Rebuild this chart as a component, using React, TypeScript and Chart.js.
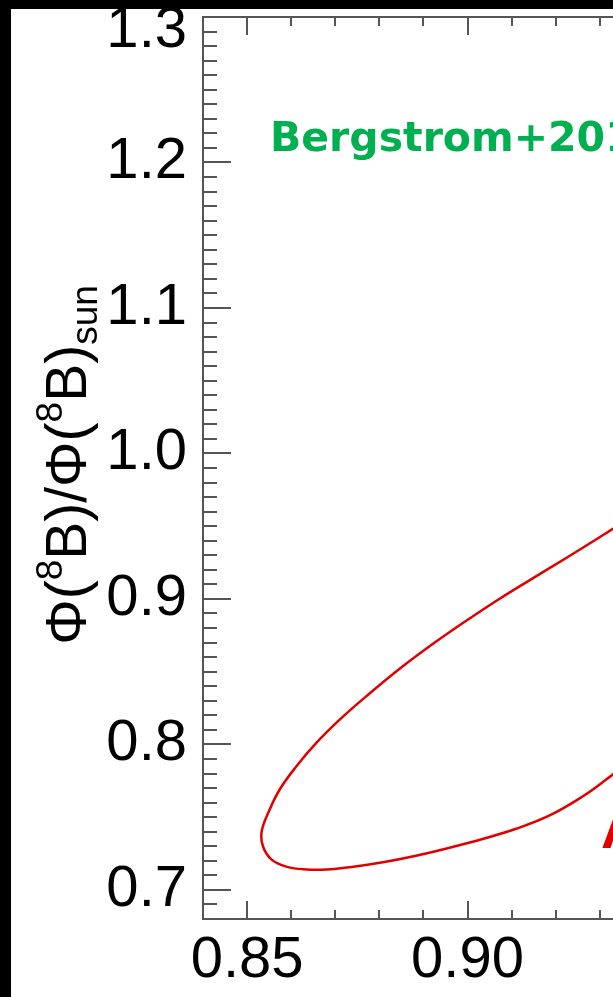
import React, { useEffect, useRef } from "react";
import { Chart, registerables } from "chart.js";

Chart.register(...registerables);

// ---- axis ranges and ticks ----
const xMin = 0.84;
const xMax = 0.933;
const yMin = 0.68;
const yMax = 1.3;
const xMajorTicks = [0.85, 0.9];
const yMajorTicks = [0.7, 0.8, 0.9, 1.0, 1.1, 1.2, 1.3];
const xMinorStep = 0.01;
const yMinorStep = 0.01;

// ---- red contour (upper branch -> tip -> lower branch) ----
const contourX = [
  0.94, 0.9313, 0.9223, 0.9147, 0.9072, 0.8997, 0.8921, 0.8846, 0.877, 0.871,
  0.8657, 0.8612, 0.8574, 0.8548, 0.8533, 0.8536, 0.8555, 0.8589, 0.8635, 0.868,
  0.8733, 0.8808, 0.8883, 0.8959, 0.9034, 0.911, 0.9185, 0.926, 0.9313, 0.94,
];
const contourY = [
  0.962, 0.945, 0.928, 0.914, 0.9, 0.885, 0.869, 0.852, 0.833, 0.817,
  0.801, 0.785, 0.769, 0.753, 0.74, 0.73, 0.721, 0.716, 0.714, 0.714,
  0.7156, 0.719, 0.7235, 0.729, 0.735, 0.742, 0.751, 0.764, 0.7755, 0.796,
];

// ---- texts ----
const yTitleParts = [
  { t: "Φ(", k: "main" },
  { t: "8", k: "sup" },
  { t: "B)/Φ(", k: "main" },
  { t: "8", k: "sup" },
  { t: "B)", k: "main" },
  { t: "sun", k: "sub" },
];
const refText = "Bergstrom+2016";
const modelText = "AGSS09";

const LABEL_FONT = "'Liberation Sans', Arial, sans-serif";
const AXIS_COLOR = "#555555";
const TICK_FONT_SIZE = 58;

const decorPlugin = {
  id: "decor",
  afterDraw(chart: any) {
    const { ctx, chartArea: ca, scales } = chart;
    const xs = scales.x;
    const ys = scales.y;
    ctx.save();

    // top axis line
    ctx.strokeStyle = AXIS_COLOR;
    ctx.lineWidth = 2;
    ctx.beginPath();
    ctx.moveTo(ca.left, ca.top);
    ctx.lineTo(ca.right + 2, ca.top);
    ctx.stroke();

    // inward ticks on x (bottom and top)
    ctx.beginPath();
    for (let i = Math.ceil(xMin / xMinorStep - 1e-6); i * xMinorStep <= xMax + 1e-9; i++) {
      const v = +(i * xMinorStep).toFixed(4);
      const major = xMajorTicks.some((m) => Math.abs(m - v) < 1e-6);
      const len = major ? 18 : 9;
      const px = Math.round(xs.getPixelForValue(v));
      ctx.moveTo(px, ca.bottom);
      ctx.lineTo(px, ca.bottom - len);
      ctx.moveTo(px, ca.top);
      ctx.lineTo(px, ca.top + len);
    }
    // inward ticks on y (left)
    for (let i = Math.ceil(yMin / yMinorStep - 1e-6); i * yMinorStep <= yMax + 1e-9; i++) {
      const v = +(i * yMinorStep).toFixed(4);
      const major = yMajorTicks.some((m) => Math.abs(m - v) < 1e-6);
      const len = major ? 28 : 14;
      const py = Math.round(ys.getPixelForValue(v));
      ctx.moveTo(ca.left, py);
      ctx.lineTo(ca.left + len, py);
    }
    ctx.stroke();

    // y-axis title with super/subscripts
    const F = 57;
    const f = 37;
    const fontFor = (k: string) => `${k === "main" ? F : f}px ${LABEL_FONT}`;
    let total = 0;
    for (const p of yTitleParts) {
      ctx.font = fontFor(p.k);
      total += ctx.measureText(p.t).width;
    }
    ctx.translate(86, 465);
    ctx.rotate(-Math.PI / 2);
    ctx.fillStyle = "#000";
    ctx.textBaseline = "alphabetic";
    ctx.textAlign = "left";
    let pos = -total / 2;
    for (const p of yTitleParts) {
      ctx.font = fontFor(p.k);
      const dy = p.k === "sup" ? -0.42 * F : p.k === "sub" ? 0.2 * F : 0;
      ctx.fillText(p.t, pos, dy);
      pos += ctx.measureText(p.t).width;
    }
    ctx.setTransform(1, 0, 0, 1, 0, 0);

    // green reference label
    ctx.font = `bold 41px 'DejaVu Sans', sans-serif`;
    ctx.fillStyle = "#00b050";
    ctx.fillText(refText, 270, 151);

    // red model label (cut by edge)
    ctx.font = `bold 56px ${LABEL_FONT}`;
    ctx.fillStyle = "#e00000";
    ctx.fillText(modelText, 601, 848);

    // black strips at top and left
    ctx.fillStyle = "#000";
    ctx.fillRect(0, 0, 11, chart.height);
    ctx.fillRect(0, 0, chart.width, 9);

    ctx.restore();
  },
};

export default function App() {
  const ref = useRef<HTMLCanvasElement | null>(null);

  useEffect(() => {
    if (!ref.current) return;
    const points = contourX.map((x, i) => ({ x, y: contourY[i] }));
    const chart = new Chart(ref.current, {
      type: "scatter",
      data: {
        datasets: [
          {
            data: points,
            showLine: true,
            borderColor: "#e00000",
            borderWidth: 2.5,
            pointRadius: 0,
            tension: 0.4,
            fill: false,
          },
        ],
      },
      options: {
        animation: false,
        responsive: false,
        layout: { padding: { top: 17, right: 0, bottom: 0, left: 0 } },
        plugins: { legend: { display: false }, tooltip: { enabled: false } },
        scales: {
          x: {
            type: "linear",
            min: xMin,
            max: xMax,
            afterBuildTicks: (s: any) => {
              s.ticks = xMajorTicks.map((v) => ({ value: v }));
            },
            afterFit: (s: any) => {
              s.height = 78;
              s.paddingLeft = 0;
              s.paddingRight = 0;
            },
            grid: { display: false, drawTicks: false },
            border: { display: true, color: AXIS_COLOR, width: 2 },
            ticks: {
              autoSkip: false,
              maxRotation: 0,
              padding: 7,
              color: "#000",
              font: { family: LABEL_FONT, size: TICK_FONT_SIZE },
              callback: (v: any) => Number(v).toFixed(2),
            },
          },
          y: {
            type: "linear",
            min: yMin,
            max: yMax,
            afterBuildTicks: (s: any) => {
              s.ticks = yMajorTicks.map((v) => ({ value: v }));
            },
            afterFit: (s: any) => {
              s.width = 203;
              s.paddingTop = 0;
              s.paddingBottom = 0;
            },
            grid: { display: false, drawTicks: false },
            border: { display: true, color: AXIS_COLOR, width: 2 },
            ticks: {
              autoSkip: false,
              padding: 16,
              color: "#000",
              font: { family: LABEL_FONT, size: TICK_FONT_SIZE, lineHeight: "28px" },
              callback: (v: any) => {
                const s = Number(v).toFixed(1);
                return Math.abs(Number(v) - 1.3) < 1e-6 ? ["", s] : s;
              },
            },
          },
        },
      },
      plugins: [decorPlugin],
    });
    return () => chart.destroy();
  }, []);

  return (
    <div
      style={{
        position: "fixed",
        left: 0,
        top: 0,
        width: 613,
        height: 997,
        background: "#fff",
        overflow: "hidden",
      }}
    >
      <canvas ref={ref} width={613} height={997} style={{ display: "block" }} />
    </div>
  );
}
